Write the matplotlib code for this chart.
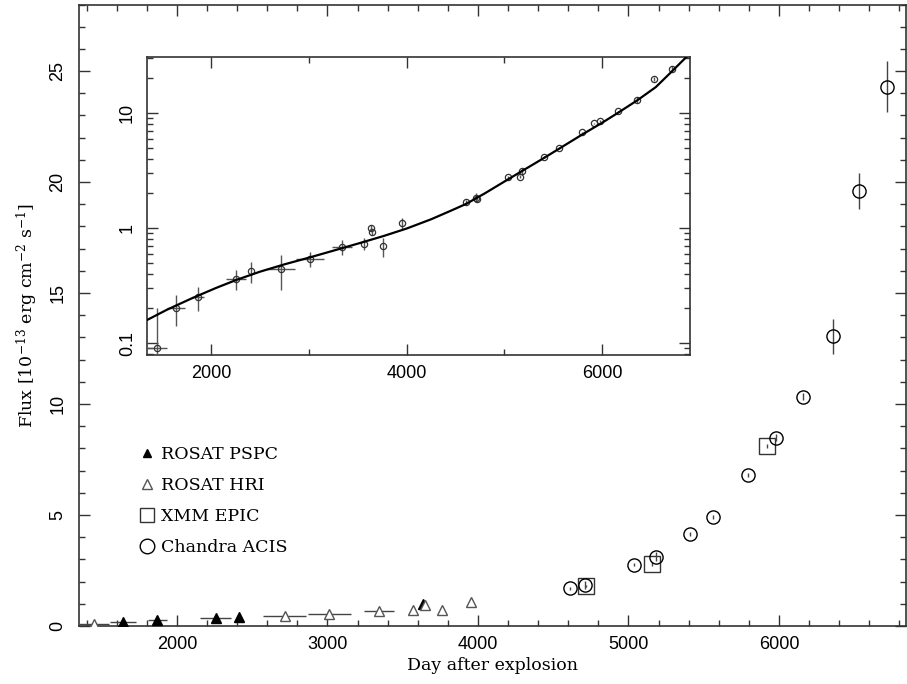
import matplotlib
matplotlib.use('Agg')
import matplotlib.pyplot as plt
from matplotlib.ticker import MultipleLocator, FixedLocator, FixedFormatter, NullFormatter
from matplotlib.lines import Line2D

plt.rcParams['mathtext.fontset'] = 'dejavuserif'

# ROSAT PSPC
pspc_day = [1642, 1870, 2256, 2409, 3637]
pspc_flux = [0.20, 0.25, 0.36, 0.42, 1.00]
pspc_xerr = [88, 63, 105, 0, 0]
pspc_yerr = [0.06, 0.06, 0.07, 0.09, 0.06]

# ROSAT HRI
hri_day = [1448, 2716, 3013, 3340, 3565, 3650, 3760, 3954]
hri_flux = [0.09, 0.44, 0.54, 0.68, 0.73, 0.93, 0.70, 1.10]
hri_xerr = [100, 143, 143, 100, 0, 0, 0, 0]
hri_yerr_lo = [0.087, 0.15, 0.08, 0.10, 0.09, 0.06, 0.14, 0.12]
hri_yerr_hi = [0.11, 0.14, 0.08, 0.11, 0.09, 0.06, 0.12, 0.12]

# XMM EPIC
xmm_day = [4716, 5156, 5918]
xmm_flux = [1.80, 2.80, 8.11]
xmm_yerr = [0.06, 0.10, 0.08]

# Chandra ACIS
acis_day = [4609, 4711, 5038, 5182, 5407, 5560, 5795, 5980, 6160, 6360, 6532, 6718]
acis_flux = [1.70, 1.84, 2.76, 3.12, 4.15, 4.92, 6.80, 8.48, 10.33, 13.05, 19.6, 24.3]
acis_yerr = [0.07, 0.17, 0.07, 0.20, 0.08, 0.08, 0.10, 0.15, 0.16, 0.80, 0.80, 1.15]

# model curve
fit_day = [1342, 1550, 1800, 2050, 2256, 2500, 2750, 3013, 3250, 3500, 3763, 4000,
           4250, 4450, 4609, 4800, 5042, 5250, 5407, 5600, 5792, 6000, 6160, 6361,
           6550, 6719, 6866]
fit_flux = [0.158, 0.195, 0.244, 0.301, 0.353, 0.417, 0.483, 0.556, 0.635, 0.731,
            0.851, 0.989, 1.19, 1.41, 1.62, 2.00, 2.66, 3.39, 4.07, 5.13, 6.46,
            8.22, 10.0, 12.9, 16.8, 23.2, 30.9]

serif = 'DejaVu Serif'
sans = 'Liberation Sans'
axcol = '#333333'
errcol = '#444444'

fig = plt.figure(figsize=(9.07, 6.84), dpi=100)
ax = fig.add_axes([79/907, 1-626/684, 827/907, 621.5/684])

ax.errorbar(pspc_day, pspc_flux, xerr=pspc_xerr, yerr=pspc_yerr, fmt='^', ms=6.5,
            mfc='black', mec='black', ecolor=errcol, elinewidth=1, capsize=0, zorder=3)
ax.errorbar(hri_day, hri_flux, xerr=hri_xerr, yerr=[hri_yerr_lo, hri_yerr_hi], fmt='^', ms=7,
            mfc='white', mec='#555555', mew=1, ecolor=errcol, elinewidth=1, capsize=0, zorder=3)
ax.errorbar(xmm_day, xmm_flux, yerr=xmm_yerr, fmt='s', ms=11, mfc='none', mec='#333333',
            mew=1, ecolor=errcol, elinewidth=1, capsize=0, zorder=3)
ax.errorbar(acis_day, acis_flux, yerr=acis_yerr, fmt='o', ms=9.5, mfc='none', mec='black',
            mew=1, ecolor=errcol, elinewidth=1, capsize=0, zorder=4)

ax.set_xlim(1349, 6844)
ax.set_ylim(0, 28)
ax.xaxis.set_major_locator(MultipleLocator(1000))
ax.xaxis.set_minor_locator(MultipleLocator(200))
ax.yaxis.set_major_locator(MultipleLocator(5))
ax.yaxis.set_minor_locator(MultipleLocator(1))
ax.tick_params(which='both', direction='in', top=True, right=True, color=axcol, width=1)
ax.tick_params(which='major', length=8)
ax.tick_params(which='minor', length=4.5)
ax.tick_params(axis='x', labelsize=13, pad=7)
ax.tick_params(axis='y', labelsize=13, pad=9, labelrotation=90)
for t in ax.get_xticklabels() + ax.get_yticklabels():
    t.set_family(sans)
for t in ax.get_yticklabels():
    t.set_va('center')
for s in ax.spines.values():
    s.set_color(axcol)
    s.set_linewidth(1.2)

ax.set_xlabel('Day after explosion', family=serif, fontsize=12.5, labelpad=3)
ax.set_ylabel(r'Flux [10$^{-13}$ erg cm$^{-2}$ s$^{-1}$]', family=serif, fontsize=12.5, labelpad=7)

handles = [
    Line2D([], [], ls='none', marker='^', ms=6, mfc='black', mec='black'),
    Line2D([], [], ls='none', marker='^', ms=7, mfc='white', mec='#555555'),
    Line2D([], [], ls='none', marker='s', ms=10, mfc='none', mec='#333333'),
    Line2D([], [], ls='none', marker='o', ms=10.5, mfc='none', mec='black'),
]
labels = ['ROSAT PSPC', 'ROSAT HRI', 'XMM EPIC', 'Chandra ACIS']
ax.legend(handles, labels, loc='upper left', bbox_to_anchor=(138/907, 1-446/684),
          bbox_transform=fig.transFigure, frameon=False, borderpad=0, borderaxespad=0,
          handlelength=1.0, handletextpad=0.35, labelspacing=0.81,
          prop={'family': serif, 'size': 12.5})

# inset, log scale
ins = fig.add_axes([147/907, 1-355/684, 543/907, 298/684])
all_day = pspc_day + hri_day + xmm_day + acis_day
all_flux = pspc_flux + hri_flux + xmm_flux + acis_flux
all_xerr = pspc_xerr + hri_xerr + [0]*len(xmm_day) + [0]*len(acis_day)
all_lo = pspc_yerr + hri_yerr_lo + xmm_yerr + acis_yerr
all_hi = pspc_yerr + hri_yerr_hi + xmm_yerr + acis_yerr
ins.errorbar(all_day, all_flux, xerr=all_xerr, yerr=[all_lo, all_hi], fmt='o', ms=4.5,
             mfc='none', mec='#333333', mew=0.9, ecolor='#555555', elinewidth=1,
             capsize=0, zorder=3)
ins.plot(fit_day, fit_flux, color='black', lw=1.6, zorder=4)
ins.set_yscale('log')
ins.set_xlim(1345, 6900)
ins.set_ylim(0.0787, 30.7)
ins.xaxis.set_major_locator(MultipleLocator(2000))
ins.xaxis.set_minor_locator(MultipleLocator(1000))
ins.yaxis.set_major_locator(FixedLocator([0.1, 1, 10]))
ins.yaxis.set_major_formatter(FixedFormatter(['0.1', '1', '10']))
minors = [m * d for d in (0.01, 0.1, 1, 10) for m in range(2, 10)]
ins.yaxis.set_minor_locator(FixedLocator(minors))
ins.yaxis.set_minor_formatter(NullFormatter())
ins.tick_params(which='both', direction='in', top=True, right=True, color=axcol, width=1)
ins.tick_params(which='major', length=8)
ins.tick_params(which='minor', length=4.5)
ins.tick_params(axis='x', labelsize=13, pad=7)
ins.tick_params(axis='y', labelsize=13, pad=8, labelrotation=90)
for t in ins.get_xticklabels() + ins.get_yticklabels():
    t.set_family(sans)
for t in ins.get_yticklabels():
    t.set_va('center')
for s in ins.spines.values():
    s.set_color(axcol)
    s.set_linewidth(1.2)

fig.savefig('out.png', dpi=100)
